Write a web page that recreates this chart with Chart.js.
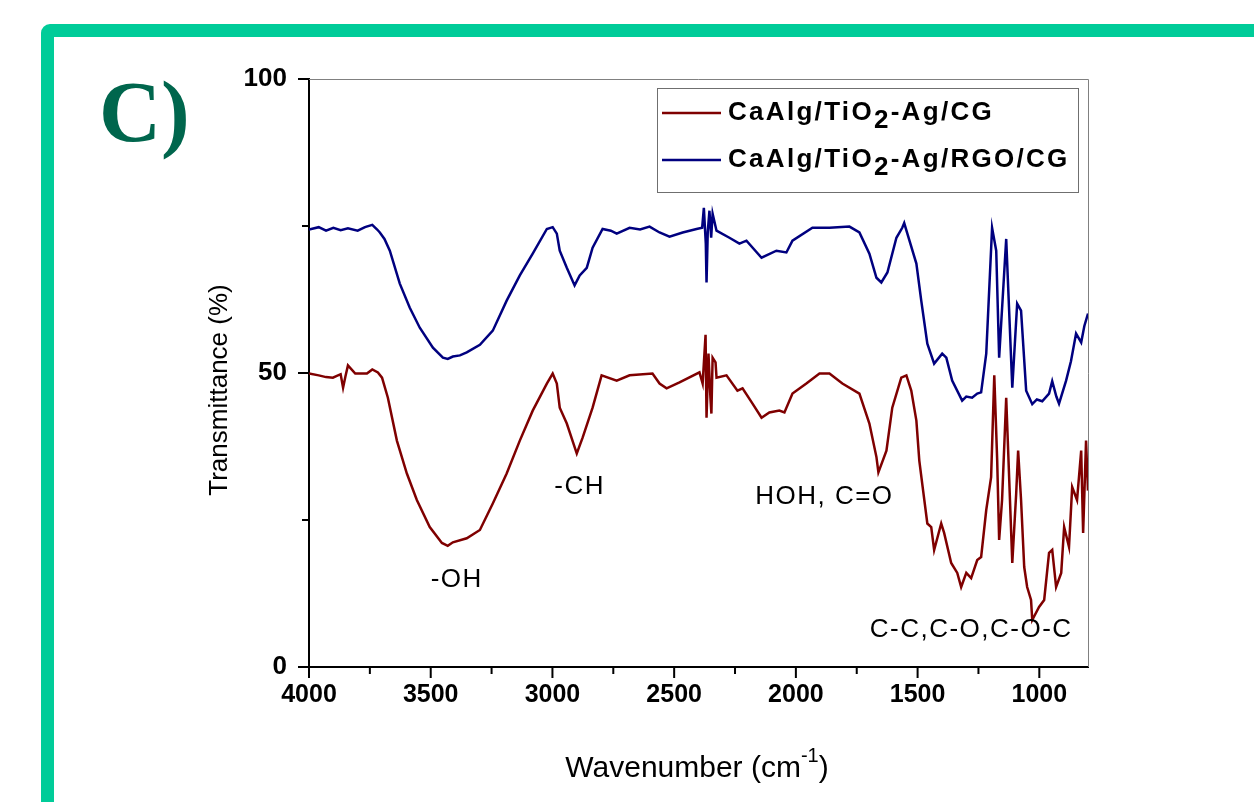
<!DOCTYPE html>
<html>
<head>
<meta charset="utf-8">
<title>FTIR C)</title>
<script src="https://cdn.jsdelivr.net/npm/chart.js@4.4.0/dist/chart.umd.min.js"></script>
<style>
  body { margin: 0; background: #fff; width: 1254px; height: 802px; overflow: hidden; position: relative; }
  .frame {
    position: absolute; left: 41px; top: 24px; width: 1300px; height: 900px;
    border: 13px solid #00CC99; border-radius: 9px; box-sizing: border-box; background: #fff;
  }
  #ftir { position: absolute; left: 0; top: 0; }
</style>
</head>
<body>
<div class="frame"></div>
<canvas id="ftir" width="1254" height="802"></canvas>
<script>
// FTIR spectra - wavenumber (cm-1) vs transmittance (%)

// CaAlg/TiO2-Ag/CG (red)
const cgWave = [4000, 3960, 3930, 3902, 3870, 3860, 3850, 3840, 3810, 3762, 3740, 3717, 3700, 3676, 3639, 3598,
  3557, 3504, 3454, 3430, 3409, 3352, 3298, 3245, 3188, 3134, 3081, 3023, 2999, 2982, 2970, 2941, 2900, 2876,
  2835, 2798, 2736, 2683, 2589, 2560, 2531, 2478, 2396, 2383, 2371, 2367, 2359, 2351, 2347, 2342, 2330, 2326,
  2285, 2240, 2219, 2178, 2141, 2109, 2068, 2047, 2014, 1957, 1903, 1862, 1809, 1739, 1698, 1669, 1661, 1628,
  1604, 1567, 1546, 1526, 1505, 1493, 1481, 1460, 1444, 1432, 1403, 1391, 1362, 1337, 1321, 1300, 1280, 1255,
  1239, 1218, 1198, 1185, 1173, 1165, 1153, 1136, 1124, 1111, 1095, 1087, 1075, 1062, 1050, 1034, 1029, 1001,
  980, 960, 947, 931, 910, 898, 878, 865, 845, 828, 820, 808, 800];
const cgTrans = [49.9, 49.6, 49.3, 49.2, 49.8, 47.5, 49.5, 51.3, 49.9, 49.9, 50.6, 50.1, 49.2, 45.8, 38.5, 32.9,
  28.4, 23.8, 21.1, 20.6, 21.2, 21.9, 23.3, 27.8, 32.9, 38.5, 43.6, 48.2, 49.9, 48.2, 44.1, 41.4, 36.3, 39.0,
  44.1, 49.6, 48.7, 49.6, 49.9, 48.2, 47.4, 48.4, 50.1, 48.2, 56.5, 42.4, 53.3, 45.8, 43.1, 52.6, 51.8, 49.2,
  49.6, 47.0, 47.4, 44.8, 42.4, 43.3, 43.6, 43.3, 46.5, 48.2, 49.9, 49.9, 48.2, 46.5, 41.4, 35.7, 33.1, 36.8,
  44.1, 49.2, 49.6, 47.0, 41.9, 35.1, 31.2, 24.4, 23.8, 19.9, 24.4, 22.8, 17.7, 16.0, 13.6, 16.0, 15.1, 18.2,
  18.7, 26.7, 32.3, 49.6, 35.1, 21.6, 28.4, 45.8, 32.3, 17.7, 29.5, 36.8, 28.4, 17.0, 13.6, 11.4, 8.0, 10.2,
  11.4, 19.4, 19.9, 13.6, 16.0, 23.8, 20.4, 30.6, 28.4, 36.8, 22.8, 38.5, 30.0];

// CaAlg/TiO2-Ag/RGO/CG (blue)
const rgoWave = [4000, 3960, 3930, 3900, 3870, 3840, 3800, 3770, 3740, 3720, 3709, 3690, 3668, 3627, 3586, 3545,
  3491, 3450, 3430, 3409, 3380, 3352, 3298, 3245, 3188, 3134, 3081, 3023, 2999, 2982, 2970, 2941, 2909, 2888,
  2859, 2835, 2794, 2760, 2736, 2683, 2640, 2601, 2560, 2519, 2465, 2408, 2385, 2378, 2370, 2367, 2362, 2355,
  2348, 2342, 2326, 2273, 2232, 2203, 2141, 2080, 2039, 2014, 1932, 1862, 1780, 1739, 1698, 1669, 1649, 1624,
  1587, 1563, 1555, 1542, 1505, 1485, 1460, 1432, 1399, 1382, 1358, 1317, 1300, 1276, 1255, 1239, 1218, 1194,
  1177, 1165, 1136, 1111, 1091, 1075, 1054, 1029, 1010, 988, 960, 947, 930, 919, 890, 870, 849, 828, 815, 800];
const rgoTrans = [74.4, 74.8, 74.2, 74.7, 74.3, 74.6, 74.2, 74.8, 75.2, 74.4, 73.9, 72.8, 70.8, 65.2, 61.1, 57.7,
  54.3, 52.6, 52.4, 52.8, 53.0, 53.5, 54.8, 57.2, 62.3, 66.6, 70.3, 74.5, 74.8, 73.7, 70.8, 67.9, 64.9, 66.6,
  67.9, 71.3, 74.5, 74.2, 73.7, 74.7, 74.4, 74.9, 73.9, 73.2, 73.9, 74.5, 74.7, 78.1, 72.0, 65.4, 74.0, 77.6,
  73.0, 77.1, 74.2, 73.0, 72.0, 72.5, 69.6, 70.8, 70.5, 72.5, 74.7, 74.7, 74.9, 73.9, 70.3, 66.2, 65.4, 67.1,
  73.0, 74.7, 75.5, 73.7, 68.6, 62.3, 55.0, 51.6, 53.3, 52.6, 48.7, 45.3, 46.0, 45.8, 46.5, 46.7, 53.3, 74.7,
  70.8, 52.6, 72.8, 47.5, 61.8, 60.6, 47.0, 44.7, 45.5, 45.2, 46.5, 48.6, 46.0, 44.8, 48.7, 52.0, 56.7, 55.2, 58.0, 60.1];

const seriesNames = ["CaAlg/TiO2-Ag/CG", "CaAlg/TiO2-Ag/RGO/CG"];
const seriesColors = ["#7F0000", "#00007F"];

const xMajorTicks = [4000, 3500, 3000, 2500, 2000, 1500, 1000];
const xMinorTicks = [3750, 3250, 2750, 2250, 1750, 1250];
const yMajorTicks = [0, 50, 100];
const yMinorTicks = [25, 75];

// band assignments, placed at (wavenumber, transmittance)
const bandLabels = ["-OH", "-CH", "HOH, C=O", "C-C,C-O,C-O-C"];
const bandWave = [3393, 2888, 1883, 1280];
const bandTrans = [14.8, 30.6, 28.9, 6.3];

const SANS = "'Liberation Sans', Arial, sans-serif";

function toPoints(xs, ys) {
  return xs.map((x, i) => ({ x: x, y: ys[i] }));
}

// everything Origin-like that Chart.js doesn't draw by itself
const extrasPlugin = {
  id: "extras",
  afterDraw(chart) {
    const ctx = chart.ctx;
    const area = chart.chartArea;
    const xs = chart.scales.x;
    const ys = chart.scales.y;
    ctx.save();

    // top / right frame
    ctx.strokeStyle = "#808080";
    ctx.lineWidth = 1;
    ctx.beginPath();
    ctx.moveTo(area.left, area.top + 0.5);
    ctx.lineTo(area.right + 0.5, area.top + 0.5);
    ctx.lineTo(area.right + 0.5, area.bottom);
    ctx.stroke();

    // tick marks, outside
    ctx.strokeStyle = "#000";
    ctx.lineWidth = 2;
    ctx.beginPath();
    xMajorTicks.forEach(v => { const p = xs.getPixelForValue(v); ctx.moveTo(p, area.bottom); ctx.lineTo(p, area.bottom + 11); });
    xMinorTicks.forEach(v => { const p = xs.getPixelForValue(v); ctx.moveTo(p, area.bottom); ctx.lineTo(p, area.bottom + 7); });
    yMajorTicks.forEach(v => { const p = ys.getPixelForValue(v); ctx.moveTo(area.left, p); ctx.lineTo(area.left - 11, p); });
    yMinorTicks.forEach(v => { const p = ys.getPixelForValue(v); ctx.moveTo(area.left, p); ctx.lineTo(area.left - 7, p); });
    ctx.stroke();

    // band labels
    ctx.fillStyle = "#000";
    ctx.font = "26px " + SANS;
    ctx.textAlign = "center";
    ctx.textBaseline = "middle";
    ctx.letterSpacing = "1.5px";
    bandLabels.forEach((t, i) => {
      ctx.fillText(t, xs.getPixelForValue(bandWave[i]), ys.getPixelForValue(bandTrans[i]));
    });

    // legend
    ctx.letterSpacing = "2.3px";
    ctx.textAlign = "left";
    ctx.strokeStyle = "#6f6f6f";
    ctx.lineWidth = 1;
    ctx.strokeRect(657.5, 88.5, 421, 104);
    chart.data.datasets.forEach((ds, i) => {
      const y = 113 + i * 47;
      ctx.strokeStyle = ds.borderColor;
      ctx.lineWidth = 2.5;
      ctx.beginPath();
      ctx.moveTo(662, y);
      ctx.lineTo(721, y);
      ctx.stroke();
      const parts = seriesNames[i].split("TiO2");
      ctx.font = "bold 26px " + SANS;
      let x = 728;
      ctx.fillText(parts[0] + "TiO", x, y);
      x += ctx.measureText(parts[0] + "TiO").width;
      ctx.fillText("2", x, y + 8);
      x += ctx.measureText("2").width;
      ctx.fillText(parts[1], x, y);
    });
    ctx.letterSpacing = "0px";

    // x title with superscript
    const t1 = "Wavenumber (cm", t2 = "-1", t3 = ")";
    ctx.font = "30px " + SANS;
    const w1 = ctx.measureText(t1).width, w3 = ctx.measureText(t3).width;
    ctx.font = "20px " + SANS;
    const w2 = ctx.measureText(t2).width;
    let tx = 697 - (w1 + w2 + w3) / 2;
    ctx.textBaseline = "alphabetic";
    ctx.font = "30px " + SANS;
    ctx.fillText(t1, tx, 777);
    tx += w1;
    ctx.font = "20px " + SANS;
    ctx.fillText(t2, tx, 762);
    tx += w2;
    ctx.font = "30px " + SANS;
    ctx.fillText(t3, tx, 777);

    // y title
    ctx.save();
    ctx.translate(220, 390);
    ctx.rotate(-Math.PI / 2);
    ctx.textAlign = "center";
    ctx.textBaseline = "middle";
    ctx.font = "26px " + SANS;
    ctx.fillText("Transmittance (%)", 0, 0);
    ctx.restore();

    // panel letter
    ctx.fillStyle = "#00664D";
    ctx.font = "bold 86px 'Liberation Serif', 'Times New Roman', serif";
    ctx.textAlign = "left";
    ctx.textBaseline = "alphabetic";
    ctx.fillText("C)", 99, 141);

    ctx.restore();
  }
};

new Chart(document.getElementById("ftir"), {
  type: "line",
  data: {
    datasets: [
      {
        label: seriesNames[0],
        data: toPoints(cgWave, cgTrans),
        borderColor: seriesColors[0],
        borderWidth: 2.5,
        pointRadius: 0,
        tension: 0
      },
      {
        label: seriesNames[1],
        data: toPoints(rgoWave, rgoTrans),
        borderColor: seriesColors[1],
        borderWidth: 2.5,
        pointRadius: 0,
        tension: 0
      }
    ]
  },
  options: {
    responsive: false,
    animation: false,
    events: [],
    layout: { padding: { top: 79, right: 166, left: 0, bottom: 0 } },
    plugins: {
      legend: { display: false },
      tooltip: { enabled: false }
    },
    scales: {
      x: {
        type: "linear",
        reverse: true,
        min: 800,
        max: 4000,
        afterFit: s => { s.height = 135; },
        afterBuildTicks: s => { s.ticks = xMajorTicks.map(v => ({ value: v })); },
        grid: { display: false, drawTicks: false },
        border: { display: true, color: "#000", width: 2 },
        ticks: {
          color: "#000",
          padding: 13,
          maxRotation: 0,
          autoSkip: false,
          callback: v => String(v),
          font: { family: SANS, size: 25, weight: "bold" }
        }
      },
      y: {
        min: 0,
        max: 100,
        afterFit: s => { s.width = 309; },
        afterBuildTicks: s => { s.ticks = yMajorTicks.map(v => ({ value: v })); },
        grid: { display: false, drawTicks: false },
        border: { display: true, color: "#000", width: 2 },
        ticks: {
          color: "#000",
          padding: 22,
          callback: v => String(v),
          font: { family: SANS, size: 26, weight: "bold" }
        }
      }
    }
  },
  plugins: [extrasPlugin]
});
</script>
</body>
</html>
